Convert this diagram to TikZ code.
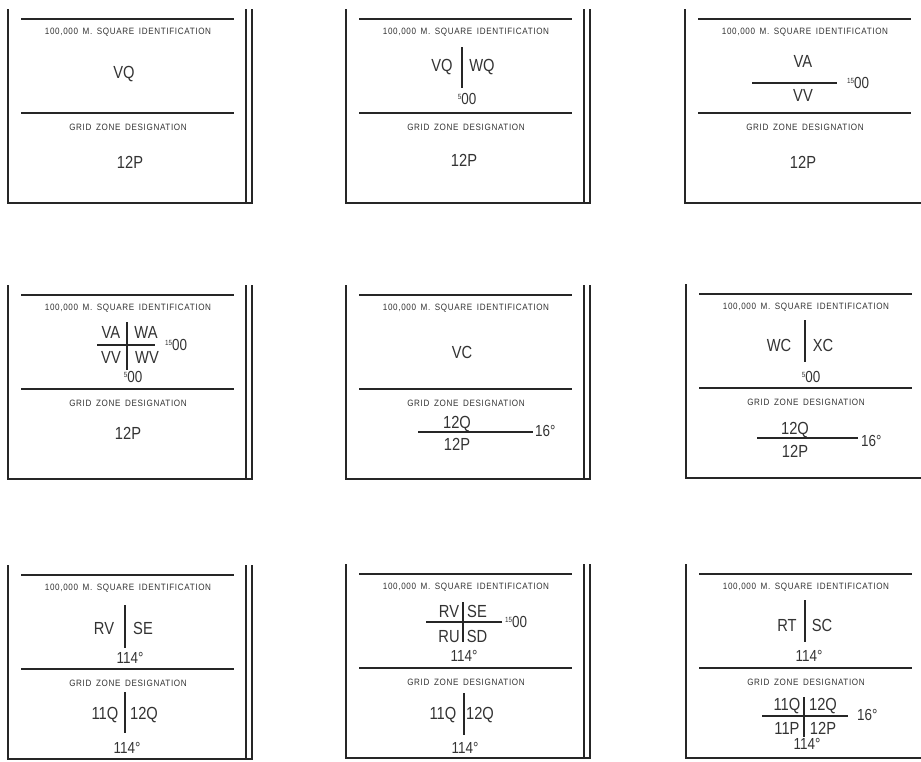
\documentclass[tikz,border=0pt]{standalone}
\usepackage{fontspec}
\setmainfont{Liberation Sans}
\newfontfamily\cndfont[FakeStretch=0.84]{Liberation Sans}
\newfontfamily\ttlfont[FakeStretch=0.88, LetterSpace=7, WordSpace=1.6]{Liberation Sans}
\newcommand\supnum[1]{\raisebox{5pt}{\fontsize{7.5}{7.5}\selectfont #1}}
\definecolor{ink}{gray}{0.15}
\definecolor{txt}{gray}{0.2}
\tikzset{
  ln/.style={draw=ink, line width=1.1pt},
  ttl/.style={font=\ttlfont\fontsize{9.2}{10}\selectfont, text=txt, inner sep=0pt, text height=6.6pt, text depth=0pt},
  big/.style={font=\cndfont\fontsize{17.5}{19}\selectfont, text=txt, inner sep=0pt, text height=12.5pt, text depth=0pt},
  mid/.style={font=\cndfont\fontsize{16}{18}\selectfont, text=txt, inner sep=0pt, text height=11.4pt, text depth=0pt},
}
\newcommand\panelframe[1]{%
  \draw[ln] (0,-10) -- (0,184) -- (244,184) -- (244,-10);
  \draw[ln] (238,-10) -- (238,184);
  \draw[ln] (13,0) -- (226,0);
  \draw[ln] (13,94) -- (226,94);
  \node[ttl] (#1t) at (120,12) {100,000 M. SQUARE IDENTIFICATION};
  \node[ttl] (#1g) at (120,108) {GRID ZONE DESIGNATION};
}
\begin{document}
\begin{tikzpicture}[x=1pt,y=-1pt]
\fill[white] (0,0) rectangle (921,761);
\clip (0,0) rectangle (921,761);
% ---------- Row 1 ----------
\begin{scope}[shift={(8,19)}]
  \panelframe{pa}
  \node[big] (pa1) at (116,53) {VQ};
  \node[big] (pa2) at (122,143) {12P};
\end{scope}
\begin{scope}[shift={(346,19)}]
  \panelframe{pb}
  \node[big] (pb1) at (96,46) {VQ};
  \node[big] (pb2) at (136,46) {WQ};
  \draw[ln] (116,28) -- (116,69);
  \node[mid] (pb3) at (121,80) {\supnum{5}00};
  \node[big] (pb4) at (118,141) {12P};
\end{scope}
\begin{scope}[shift={(685,19)}]
  \panelframe{pc}
  \node[big] (pc1) at (118,42) {VA};
  \draw[ln] (67,64) -- (152,64);
  \node[big] (pc2) at (118,76) {VV};
  \node[mid,anchor=west] (pc3) at (162,64) {\supnum{15}00};
  \node[big] (pc4) at (118,143) {12P};
\end{scope}
% ---------- Row 2 ----------
\begin{scope}[shift={(8,295)}]
  \panelframe{pd}
  \node[big] (pd1) at (103,37) {VA};
  \node[big] (pd2) at (138,37) {WA};
  \draw[ln] (89,50) -- (147,50);
  \node[big] (pd3) at (103,62) {VV};
  \node[big] (pd4) at (139,62) {WV};
  \draw[ln] (119,27) -- (119,75);
  \node[mid,anchor=west] (pd5) at (157,50) {\supnum{15}00};
  \node[mid] (pd6) at (125,82) {\supnum{5}00};
  \node[big] (pd7) at (120,138) {12P};
\end{scope}
\begin{scope}[shift={(346,295)}]
  \panelframe{pe}
  \node[big] (pe1) at (116,57) {VC};
  \node[big] (pe2) at (111,127) {12Q};
  \draw[ln] (72,137) -- (187,137);
  \node[big] (pe3) at (111,149) {12P};
  \node[mid,anchor=west] (pe4) at (189,136) {16°};
\end{scope}
\begin{scope}[shift={(686,294)}]
  \panelframe{pf}
  \node[big] (pf1) at (93,51) {WC};
  \node[big] (pf2) at (137,51) {XC};
  \draw[ln] (119,26) -- (119,68);
  \node[mid] (pf3) at (125,83) {\supnum{5}00};
  \node[big] (pf4) at (109,134) {12Q};
  \draw[ln] (71,144) -- (172,144);
  \node[big] (pf5) at (109,157) {12P};
  \node[mid,anchor=west] (pf6) at (175,147) {16°};
\end{scope}
% ---------- Row 3 ----------
\begin{scope}[shift={(8,575)}]
  \panelframe{pg}
  \node[big] (pg1) at (96,53) {RV};
  \node[big] (pg2) at (135,53) {SE};
  \draw[ln] (117,30) -- (117,73);
  \node[mid] (pg3) at (122,83) {114°};
  \node[big] (pg4) at (97,138) {11Q};
  \node[big] (pg5) at (136,138) {12Q};
  \draw[ln] (117,117) -- (117,158);
  \node[mid] (pg6) at (119,173) {114°};
\end{scope}
\begin{scope}[shift={(346,574)}]
  \panelframe{ph}
  \node[big] (ph1) at (103,37) {RV};
  \node[big] (ph2) at (131,37) {SE};
  \draw[ln] (80,48) -- (156,48);
  \node[big] (ph3) at (103,62) {RU};
  \node[big] (ph4) at (131,62) {SD};
  \draw[ln] (117,28) -- (117,68);
  \node[mid,anchor=west] (ph5) at (159,48) {\supnum{15}00};
  \node[mid] (ph6) at (118,82) {114°};
  \node[big] (ph7) at (97,139) {11Q};
  \node[big] (ph8) at (134,139) {12Q};
  \draw[ln] (118,119) -- (118,161);
  \node[mid] (ph9) at (119,174) {114°};
\end{scope}
\begin{scope}[shift={(686,574)}]
  \panelframe{pi}
  \node[big] (pi1) at (101,51) {RT};
  \node[big] (pi2) at (136,51) {SC};
  \draw[ln] (119,26) -- (119,68);
  \node[mid] (pi3) at (123,82) {114°};
  \node[big] (pi4) at (101,130) {11Q};
  \node[big] (pi5) at (137,130) {12Q};
  \draw[ln] (76,142) -- (162,142);
  \node[big] (pi6) at (101,154) {11P};
  \node[big] (pi7) at (137,154) {12P};
  \draw[ln] (118,123) -- (118,163);
  \node[mid] (pi8) at (121,170) {114°};
  \node[mid,anchor=west] (pi9) at (171,141) {16°};
\end{scope}
\end{tikzpicture}
\end{document}
